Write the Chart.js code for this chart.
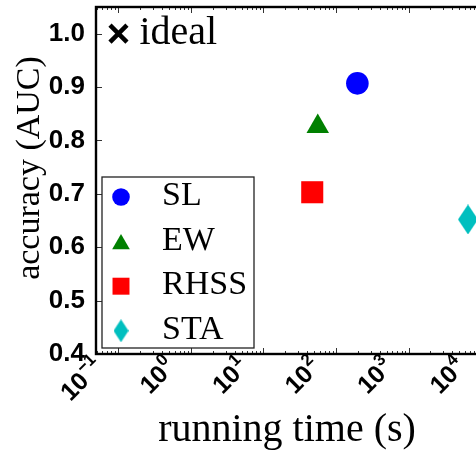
<!DOCTYPE html>
<html>
<head>
<meta charset="utf-8">
<script src="https://cdn.jsdelivr.net/npm/chart.js@4.4.1/dist/chart.umd.min.js"></script>
<style>
  html, body { margin: 0; padding: 0; background: #fff; }
  #wrap { width: 476px; height: 450px; overflow: hidden; position: relative; }
  #wrap canvas { position: absolute; left: 0; top: 0; }
</style>
</head>
<body>
<div id="wrap"><canvas id="chart" width="560" height="450"></canvas></div>
<script>
// data
const METHODS = ['SL', 'EW', 'RHSS', 'STA'];
const RUN_TIME = [197, 56, 47, 6600];          // seconds
const AUC = [0.907, 0.826, 0.703, 0.652];
const IDEAL_TIME = [0.1];
const IDEAL_AUC = [1.0];
const X_DECADES = [-1, 0, 1, 2, 3, 4];
const Y_TICKS = [0.4, 0.5, 0.6, 0.7, 0.8, 0.9, 1.0];
const X_RANGE = [0.049, 65000];
const Y_RANGE = [0.4, 1.05];

const COLORS = ['#0000ff', '#008000', '#ff0000', '#00bfbf'];
const SERIF = '"Liberation Serif", "DejaVu Serif", serif';
const SANS = '"Liberation Sans", Arial, sans-serif';

function makeDiamond(w, h, color) {
  const c = document.createElement('canvas');
  c.width = w; c.height = h;
  const g = c.getContext('2d');
  g.fillStyle = color;
  g.beginPath();
  g.moveTo(w / 2, 0); g.lineTo(w, h / 2); g.lineTo(w / 2, h); g.lineTo(0, h / 2);
  g.closePath();
  g.fill();
  return c;
}

const POINT_STYLES = ['circle', 'triangle', 'rect', makeDiamond(20, 30, COLORS[3])];
const RADII = [11.3, 13, 15.6, 15];
const LEGEND_STYLES = ['circle', 'triangle', 'rect', makeDiamond(15, 23, COLORS[3])];
const LEGEND_RADII = [8.8, 10.2, 12, 12];

const datasets = METHODS.map((name, i) => ({
  label: name,
  data: [{ x: RUN_TIME[i], y: AUC[i] }],
  pointStyle: POINT_STYLES[i],
  pointRadius: RADII[i],
  backgroundColor: COLORS[i],
  borderColor: COLORS[i],
  borderWidth: 0,
}));

datasets.push({
  label: 'ideal',
  data: IDEAL_TIME.map((t, i) => ({ x: t, y: IDEAL_AUC[i] })),
  pointStyle: 'crossRot',
  pointRadius: 12,
  borderColor: '#000',
  borderWidth: 4.5,
});

// ================================================================
// ticks, spines, labels, legend
// ================================================================

function line(ctx, x1, y1, x2, y2) {
  ctx.beginPath(); ctx.moveTo(x1, y1); ctx.lineTo(x2, y2); ctx.stroke();
}

const decorPlugin = {
  id: 'decor',
  afterDraw(chart) {
    const { ctx, chartArea: a, scales: { x, y } } = chart;
    ctx.save();

    // inward ticks
    ctx.strokeStyle = '#333';
    ctx.lineWidth = 1;
    for (let d = -2; d <= 5; d++) {
      for (let k = 1; k <= 9; k++) {
        const v = k * Math.pow(10, d);
        if (v < x.min || v > x.max) continue;
        const px = Math.round(x.getPixelForValue(v)) + 0.5;
        const len = k === 1 ? 6 : 3;
        line(ctx, px, a.bottom, px, a.bottom - len);
        line(ctx, px, a.top, px, a.top + len);
      }
    }
    Y_TICKS.forEach((v) => {
      const py = Math.round(y.getPixelForValue(v)) + 0.5;
      line(ctx, a.left, py, a.left + 6, py);
      line(ctx, a.right, py, a.right - 6, py);
    });

    // spines
    ctx.strokeStyle = '#000';
    ctx.lineWidth = 2.4;
    ctx.strokeRect(a.left, a.top, a.right - a.left, a.bottom - a.top);

    // x tick labels 10^n
    ctx.fillStyle = '#000';
    X_DECADES.forEach((d) => {
      const px = x.getPixelForValue(Math.pow(10, d));
      const exp = d < 0 ? '\u2212' + (-d) : String(d);
      ctx.save();
      ctx.translate(px - 14, a.bottom + 14);
      ctx.rotate(-Math.PI / 4);
      ctx.textAlign = 'right';
      ctx.textBaseline = 'alphabetic';
      ctx.font = `bold 17px ${SANS}`;
      const we = ctx.measureText(exp).width;
      ctx.fillText(exp, 0, -11);
      ctx.font = `bold 25px ${SANS}`;
      ctx.fillText('10', -we - 1, 0);
      ctx.restore();
    });

    // axis titles
    ctx.font = `40px ${SERIF}`;
    ctx.textAlign = 'center';
    ctx.textBaseline = 'alphabetic';
    ctx.fillText('running time (s)', 287, 441);

    ctx.save();
    ctx.translate(30, 168);
    ctx.rotate(-Math.PI / 2);
    ctx.font = `34px ${SERIF}`;
    ctx.textBaseline = 'middle';
    ctx.fillText('accuracy (AUC)', 0, 0);
    ctx.restore();

    // "ideal" label next to its marker
    ctx.font = `40px ${SERIF}`;
    ctx.textAlign = 'left';
    ctx.fillText('ideal', x.getPixelForValue(IDEAL_TIME[0]) + 21, y.getPixelForValue(IDEAL_AUC[0]) + 10);

    // legend box
    const bx = a.left + 6, bw = 152, bh = 171;
    const by = a.bottom - 6 - bh;
    ctx.fillStyle = '#fff';
    ctx.fillRect(bx, by, bw, bh);
    ctx.strokeStyle = '#222';
    ctx.lineWidth = 1.3;
    ctx.strokeRect(bx, by, bw, bh);

    ctx.font = `34px ${SERIF}`;
    METHODS.forEach((name, i) => {
      const cy = by + 20 + i * 44.6;
      const r = LEGEND_RADII[i];
      ctx.fillStyle = COLORS[i];
      const my = LEGEND_STYLES[i] === 'triangle' ? cy + r / 4 : cy;
      Chart.helpers.drawPoint(ctx, { pointStyle: LEGEND_STYLES[i], radius: r, rotation: 0, borderWidth: 0 }, bx + 19, my);
      ctx.fillStyle = '#000';
      ctx.fillText(name, bx + 60, cy + 8);
    });

    ctx.restore();
  },
};

new Chart(document.getElementById('chart'), {
  type: 'scatter',
  data: { datasets },
  plugins: [decorPlugin],
  options: {
    responsive: false,
    animation: false,
    events: [],
    layout: { padding: { top: 7, right: 20, left: 0, bottom: 0 }, autoPadding: false },
    plugins: { legend: { display: false }, tooltip: { enabled: false } },
    scales: {
      x: {
        type: 'logarithmic',
        min: X_RANGE[0],
        max: X_RANGE[1],
        grid: { display: false },
        border: { display: false },
        ticks: { display: false },
        afterFit(s) { s.height = 96; s.paddingLeft = 0; s.paddingRight = 0; },
      },
      y: {
        min: Y_RANGE[0],
        max: Y_RANGE[1],
        grid: { display: false, drawTicks: false },
        border: { display: false },
        afterBuildTicks(s) { s.ticks = Y_TICKS.map((v) => ({ value: v })); },
        ticks: {
          autoSkip: false,
          padding: 11,
          color: '#000',
          font: { family: SANS, size: 26, weight: 'bold' },
          callback: (v) => v.toFixed(1),
        },
        afterFit(s) { s.width = 96; s.paddingTop = 0; s.paddingBottom = 0; },
      },
    },
  },
});
</script>
</body>
</html>
